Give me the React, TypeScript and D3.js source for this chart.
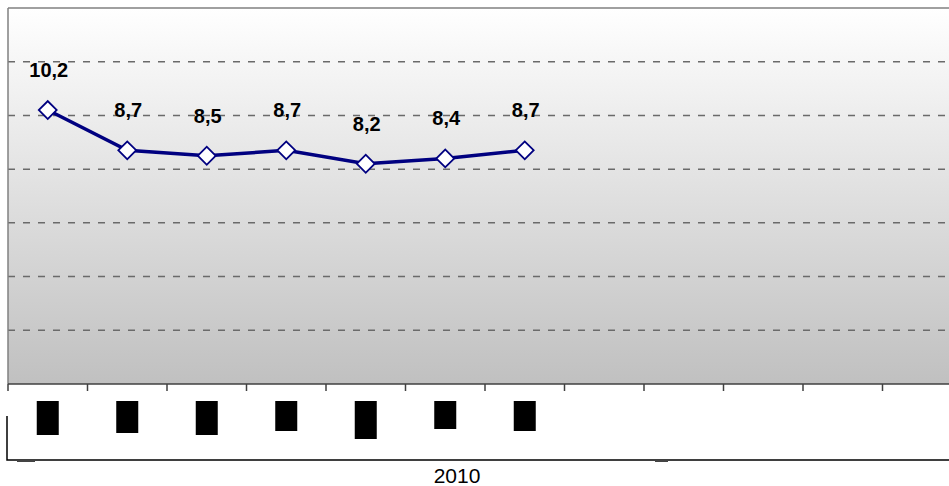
import React, { useEffect, useRef } from "react";
import * as d3 from "d3";

// categories (labels are redacted in the source, shown as black blocks)
const months = ["1", "2", "3", "4", "5", "6", "7", "8", "9", "10", "11", "12"];
const values = [10.2, 8.7, 8.5, 8.7, 8.2, 8.4, 8.7];
const valueLabels = ["10,2", "8,7", "8,5", "8,7", "8,2", "8,4", "8,7"];
const yTicks = [0, 2, 4, 6, 8, 10, 12, 14];
const groupLabel = "2010";
// height of each redacted label block
const redactHeights = [34, 32, 34, 30, 38, 28, 30];

export default function App() {
  const svgRef = useRef<SVGSVGElement>(null);

  useEffect(() => {
    if (!svgRef.current) return;
    const svg = d3.select(svgRef.current);
    const width = 949;
    const height = 486;
    svg.attr("viewBox", `0 0 ${width} ${height}`);
    svg.selectAll("*").remove();

    const left = 8;
    const top = 8;
    const bottom = 384;
    const band = 79.5;

    const x = d3
      .scaleBand<string>()
      .domain(months)
      .range([left, left + band * months.length])
      .padding(0);
    const y = d3.scaleLinear().domain([0, 14]).range([bottom, top]);

    const font = "'Liberation Sans', Arial, sans-serif";

    // background gradient
    const defs = svg.append("defs");
    const grad = defs
      .append("linearGradient")
      .attr("id", "bg")
      .attr("x1", 0)
      .attr("y1", 0)
      .attr("x2", 0)
      .attr("y2", 1);
    grad.append("stop").attr("offset", "0%").attr("stop-color", "#ffffff");
    grad.append("stop").attr("offset", "100%").attr("stop-color", "#c0c0c0");

    svg
      .append("rect")
      .attr("x", left)
      .attr("y", top)
      .attr("width", band * months.length)
      .attr("height", bottom - top)
      .style("fill", "url(#bg)");

    // grid lines
    yTicks
      .filter((t) => t > 0 && t < 14)
      .forEach((t) => {
        svg
          .append("line")
          .attr("x1", left)
          .attr("x2", width)
          .attr("y1", y(t))
          .attr("y2", y(t))
          .style("stroke", "#6a6a6a")
          .style("stroke-width", 1.5)
          .style("stroke-dasharray", "7,8");
      });

    // border top + left
    svg
      .append("line")
      .attr("x1", left)
      .attr("x2", width)
      .attr("y1", top)
      .attr("y2", top)
      .style("stroke", "#808080")
      .style("stroke-width", 1.5);
    svg
      .append("line")
      .attr("x1", left)
      .attr("x2", left)
      .attr("y1", top)
      .attr("y2", bottom)
      .style("stroke", "#808080")
      .style("stroke-width", 1.5);

    // x axis
    const xAxis = d3.axisBottom(x).tickSize(0).tickFormat(() => "");
    svg
      .append("g")
      .attr("transform", `translate(0, ${bottom})`)
      .call(xAxis)
      .attr("class", "x-axis");
    svg.selectAll(".x-axis .domain").remove();
    svg
      .append("line")
      .attr("x1", left)
      .attr("x2", width)
      .attr("y1", bottom)
      .attr("y2", bottom)
      .style("stroke", "#404040")
      .style("stroke-width", 1.5);
    months.forEach((m) => {
      const tx = x(m) as number;
      svg
        .append("line")
        .attr("x1", tx)
        .attr("x2", tx)
        .attr("y1", bottom)
        .attr("y2", bottom + 7)
        .style("stroke", "#404040")
        .style("stroke-width", 1.5);
    });

    // redacted category labels
    redactHeights.forEach((h, i) => {
      const cx = (x(months[i]) as number) + x.bandwidth() / 2;
      svg
        .append("rect")
        .attr("x", cx - 11)
        .attr("y", 401)
        .attr("width", 22)
        .attr("height", h)
        .style("fill", "#000");
    });

    // group bracket
    svg
      .append("path")
      .attr("d", `M${left - 1},416 V460 H${width}`)
      .style("fill", "none")
      .style("stroke", "#000")
      .style("stroke-width", 1.5);
    [[17, 35], [655, 668]].forEach(([a, b]) => {
      svg
        .append("rect")
        .attr("x", a)
        .attr("y", 460)
        .attr("width", b - a)
        .attr("height", 2)
        .style("fill", "#444");
    });
    svg
      .append("text")
      .attr("x", 457)
      .attr("y", 483)
      .attr("text-anchor", "middle")
      .style("font-family", font)
      .style("font-size", "21px")
      .style("fill", "#000")
      .text(groupLabel);

    // line
    const pts = values.map((v, i) => ({
      x: (x(months[i]) as number) + x.bandwidth() / 2,
      y: y(v),
    }));
    const line = d3
      .line<{ x: number; y: number }>()
      .x((d) => d.x)
      .y((d) => d.y);
    svg
      .append("path")
      .datum(pts)
      .attr("d", line)
      .style("fill", "none")
      .style("stroke", "#000080")
      .style("stroke-width", 3.5);

    // markers
    const sym = d3.symbol().type(d3.symbolSquare).size(160);
    pts.forEach((p) => {
      svg
        .append("path")
        .attr("d", sym())
        .attr("transform", `translate(${p.x},${p.y}) rotate(45)`)
        .style("fill", "#fff")
        .style("stroke", "#000080")
        .style("stroke-width", 1.8);
    });

    // value labels
    pts.forEach((p, i) => {
      svg
        .append("text")
        .attr("x", p.x + 1)
        .attr("y", p.y - 33)
        .attr("text-anchor", "middle")
        .style("font-family", font)
        .style("font-size", "20px")
        .style("font-weight", "bold")
        .style("fill", "#000")
        .text(valueLabels[i]);
    });
  }, []);

  return (
    <svg
      ref={svgRef}
      width={949}
      height={486}
      style={{ position: "absolute", left: 0, top: 0, background: "#fff" }}
    />
  );
}
